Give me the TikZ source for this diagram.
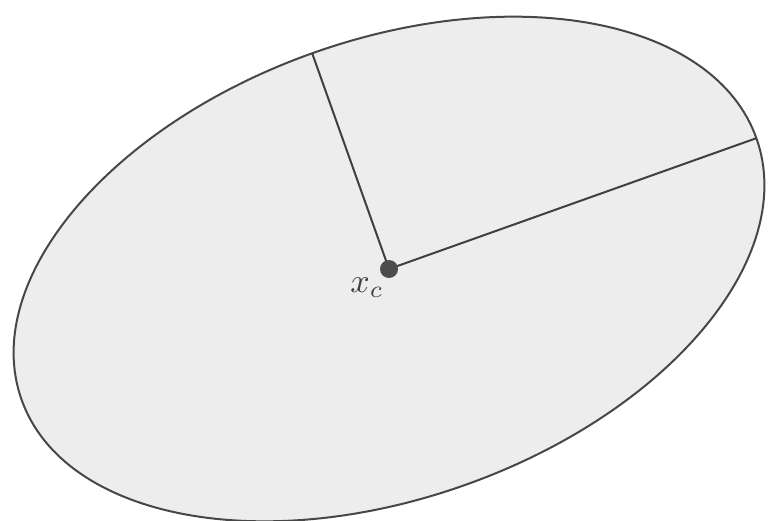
\documentclass[tikz,border=0pt]{standalone}
\usepackage{tikz}
\begin{document}
\begin{tikzpicture}[x=1pt,y=-1pt,
  rim/.style={draw=black!72,line width=2pt,fill=black!7},
  axisline/.style={draw=black!75,line width=2pt},
  centerdot/.style={circle,fill=black!70,inner sep=0pt,minimum size=18pt},
  labeltext/.style={text=black!75,inner sep=0pt,scale=3.4}]
\useasboundingbox (0,0) rectangle (768,521);
\coordinate (c) at (389,269);
\draw[rim] (c) ellipse[x radius=390pt, y radius=229pt, rotate=19.6];
\path (c) ++(-19.6:390) coordinate (longend);
\path (c) ++(-109.6:229) coordinate (shortend);
\draw[axisline] (c) -- (longend);
\draw[axisline] (c) -- (shortend);
\node[centerdot] (dot) at (c) {};
\node[labeltext] (lab) at (367,288) {$x_c$};
\end{tikzpicture}
\end{document}
